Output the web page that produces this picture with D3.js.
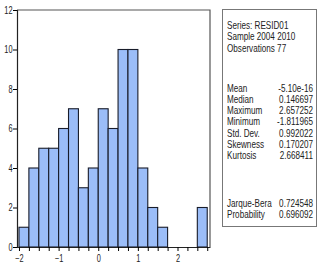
<!DOCTYPE html>
<html>
<head>
<meta charset="utf-8">
<script src="https://cdn.jsdelivr.net/npm/d3@7"></script>
<style>
  body { margin: 0; background: #fff; }
  svg text { font-family: "Liberation Sans", Arial, sans-serif; fill: #222; }
</style>
</head>
<body>
<svg id="chart" width="319" height="266"></svg>
<script>
// histogram bins (left edge) and counts
const binStarts = [-2, -1.75, -1.5, -1.25, -1, -0.75, -0.5, -0.25, 0, 0.25, 0.5, 0.75, 1, 1.25, 1.5, 2.5];
const counts = [1, 4, 5, 5, 6, 7, 3, 4, 7, 6, 10, 10, 4, 2, 1, 2];
const binWidth = 0.25;
const yTicks = [0, 2, 4, 6, 8, 10, 12];
const xLabels = [-2, -1, 0, 1, 2];

const headerLines = ['Series: RESID01', 'Sample 2004 2010', 'Observations 77'];
const statNames = ['Mean', 'Median', 'Maximum', 'Minimum', 'Std. Dev.', 'Skewness', 'Kurtosis'];
const statValues = ['-5.10e-16', '0.146697', '2.657252', '-1.811965', '0.992022', '0.170207', '2.668411'];
const testNames = ['Jarque-Bera', 'Probability'];
const testValues = ['0.724548', '0.696092'];

const svg = d3.select('#chart');

const x = d3.scaleLinear().domain([-2.05, 2.82]).range([17, 210]);
const y = d3.scaleLinear().domain([0, 12]).range([247, 10]);

// bars
svg.append('g')
  .selectAll('rect')
  .data(binStarts)
  .enter()
  .append('rect')
  .attr('x', (d) => x(d))
  .attr('y', (d, i) => y(counts[i]))
  .attr('width', (d) => x(d + binWidth) - x(d))
  .attr('height', (d, i) => y(0) - y(counts[i]))
  .attr('fill', '#9bbdf8')
  .attr('stroke', '#181c2a')
  .attr('stroke-width', 1.1);

// frame top/right
svg.append('path')
  .attr('d', `M${x.range()[0]},${y(12)}H${x.range()[1]}V${y(0)}`)
  .attr('fill', 'none')
  .attr('stroke', '#555')
  .attr('stroke-width', 1.2);

// narrow look: squeeze text horizontally
const sx = 0.74;

// y axis
const yAxis = d3.axisLeft(y).tickValues(yTicks).tickSize(4).tickPadding(2);
const gy = svg.append('g')
  .attr('transform', `translate(${x.range()[0]},0)`)
  .call(yAxis);
gy.select('.domain').attr('stroke', '#222').attr('stroke-width', 1.2);
gy.selectAll('text').attr('font-size', 10).style('font-family', null)
  .attr('transform', `scale(${sx},1)`);

// x axis, minor ticks every bin
const minorTicks = d3.range(-2, 2.76, 0.25);
const xAxis = d3.axisBottom(x).tickValues(minorTicks).tickSize(4).tickSizeOuter(0)
  .tickFormat((d) => (xLabels.includes(Math.round(d * 100) / 100) ? d3.format('d')(d) : ''));
const gx = svg.append('g')
  .attr('transform', `translate(0,${y(0)})`)
  .call(xAxis);
gx.select('.domain').attr('stroke', '#222').attr('stroke-width', 1.2);
gx.selectAll('text').attr('font-size', 10).attr('dy', '0.85em').style('font-family', null)
  .attr('x', function () { return 0; })
  .each(function () {
    // squeeze around the tick centre
    d3.select(this).attr('transform', `scale(${sx},1)`);
  });

// stats box
const box = svg.append('g');
box.append('rect')
  .attr('x', 222.5).attr('y', 9.5)
  .attr('width', 94).attr('height', 217)
  .attr('fill', '#fff')
  .attr('stroke', '#777');

const leftX = 227;
const rightX = 313;
const fs = 11;
const rowH = 11.3;

function addText(px, py, str, anchor) {
  box.append('g')
    .attr('transform', `translate(${px},${py}) scale(${sx},1)`)
    .append('text')
    .attr('font-size', fs)
    .attr('text-anchor', anchor)
    .text(str);
}

headerLines.forEach((d, i) => addText(leftX, 28.5 + i * 11.8, d, 'start'));
statNames.forEach((d, i) => {
  addText(leftX, 91.5 + i * rowH, d, 'start');
  addText(rightX, 91.5 + i * rowH, statValues[i], 'end');
});
testNames.forEach((d, i) => {
  addText(leftX, 206.5 + i * rowH, d, 'start');
  addText(rightX, 206.5 + i * rowH, testValues[i], 'end');
});
</script>
</body>
</html>
